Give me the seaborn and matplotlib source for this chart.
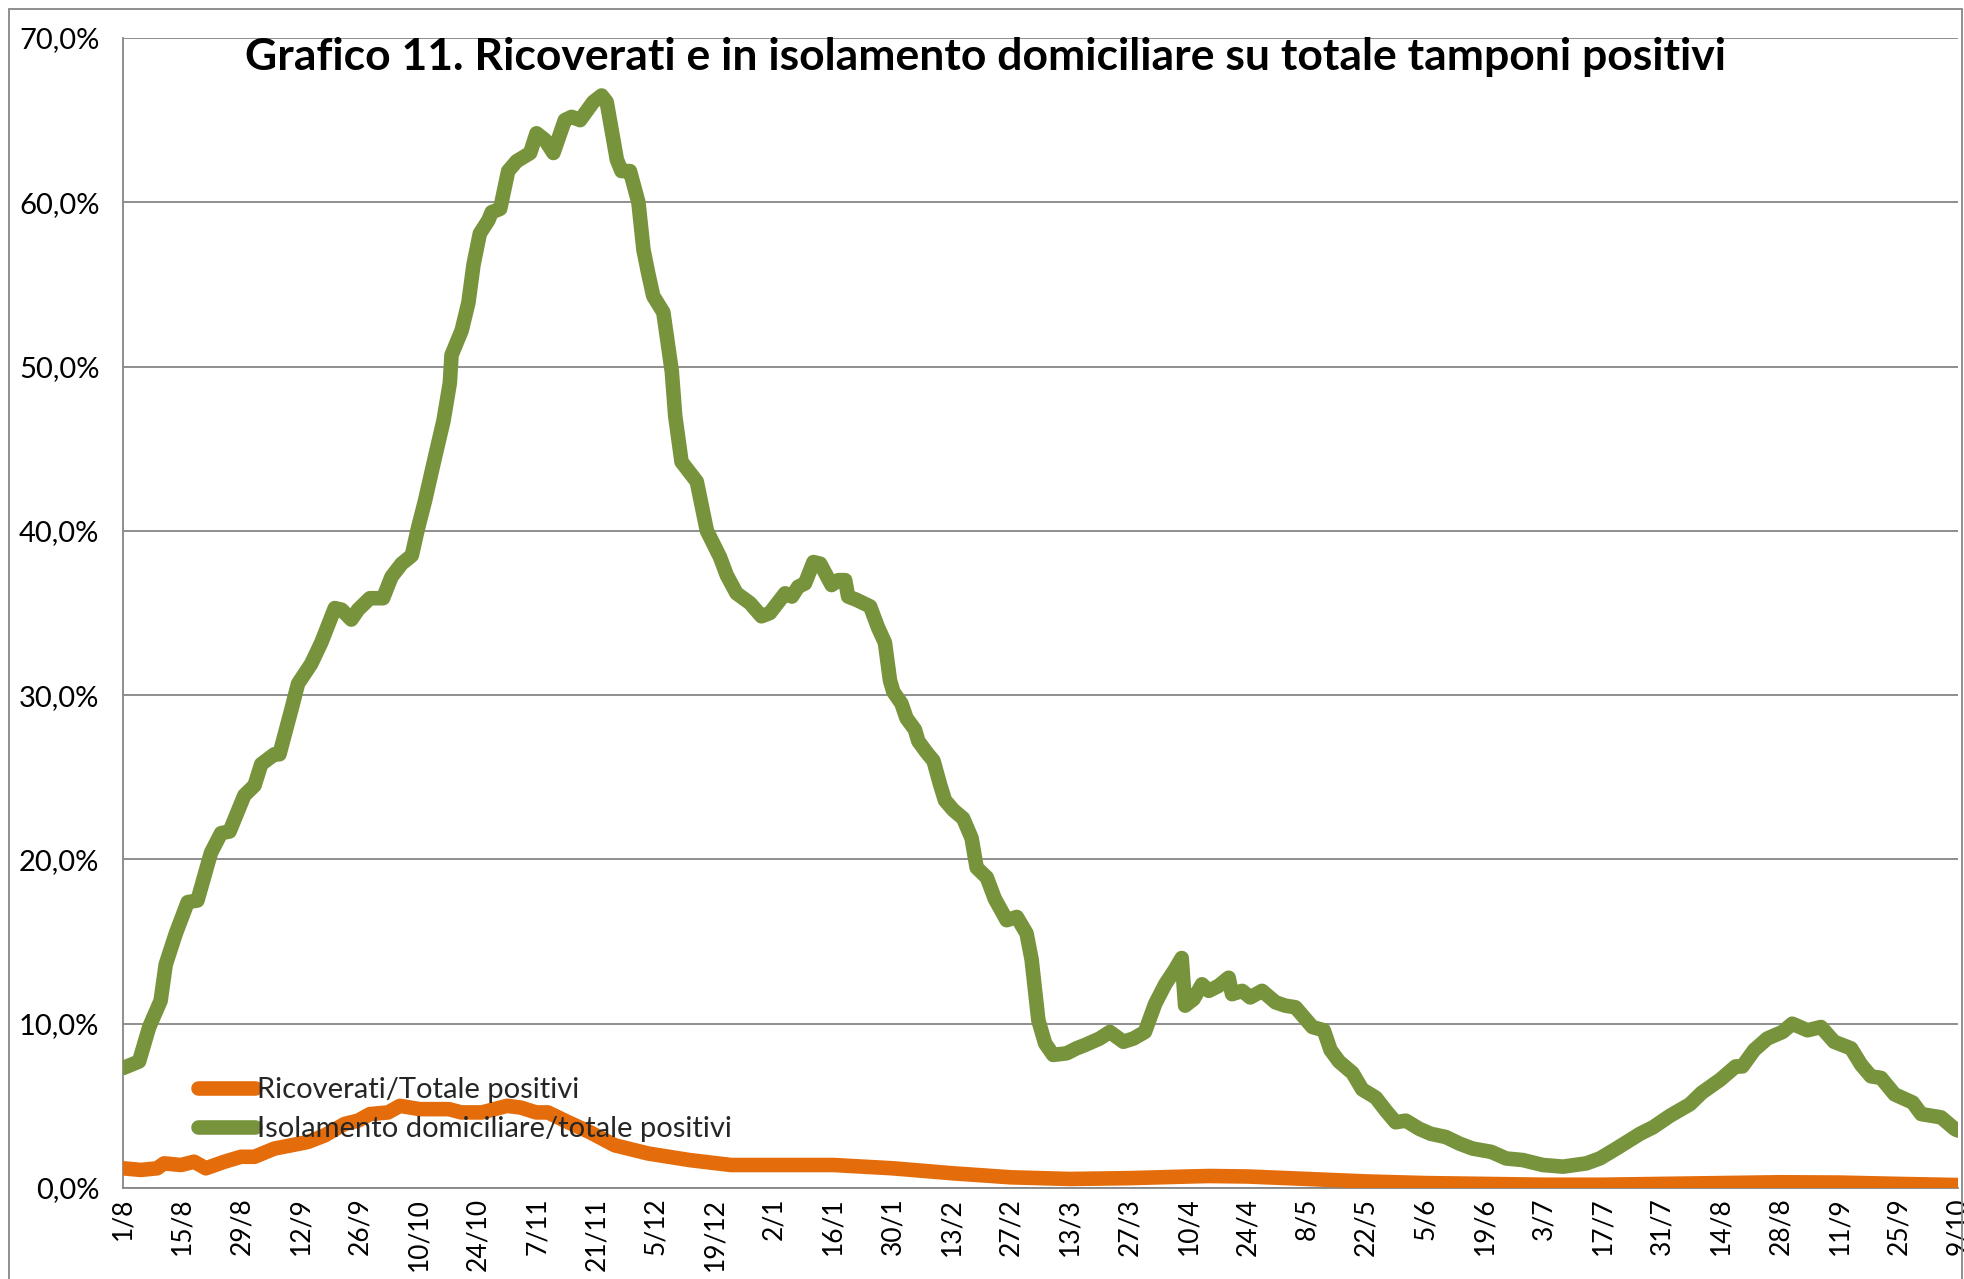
import numpy as np
import pandas as pd
import matplotlib
matplotlib.use("Agg")
import matplotlib.pyplot as plt
import seaborn as sns
from matplotlib.patches import Rectangle

# ---------------- data (day offset from 1 Aug 2020, value in %) ----------------
green_days = [0, 3.8, 6.2, 8.9, 10.1, 12.5, 15.3, 17.6, 20.8, 23.2, 25.2, 28.7, 31.1, 32.7, 35.8, 37,
              39.8, 41.4, 44.5, 46.9, 50.1, 51.7, 54, 55.6, 58.4, 61.5, 63.5, 65.9, 68.3, 69.8, 71.4,
              73.8, 75.8, 77.3, 77.7, 80.1, 81.7, 82.9, 84.4, 86.4, 87.2, 89.2, 91.1, 93.1, 96.3, 97.8,
              99.8, 101.8, 104.5, 106.1, 108.1, 111.2, 113.2, 114.4, 116.8, 117.9, 119.9, 121.9, 123.1,
              124.2, 125.4, 127.8, 129.8, 130.6, 132.1, 135.7, 138.1, 141.2, 142.8, 145.1,
              148.3, 151, 153, 155.4, 156.6, 158.2, 159.7, 161.3, 163.3, 164.9, 167.6, 169.2, 170.8,
              171.5, 173.5, 176.7, 178.6, 180.2, 181.4, 182.2, 184.1, 185.3, 187.3, 188.1, 190.1,
              191.7, 193.2, 194.4, 196.4, 198.7, 200.7, 201.9, 204.3, 206.2, 209, 211.4, 213.7, 214.9,
              216.5, 218.1, 220, 223.2,
              225.5, 227.5, 231, 233.4, 236.6, 239, 241.7, 244.1, 246.5, 248.8, 250.4, 251.2, 253.2,
              255.2, 256.8, 259.1, 261.5, 262.3, 264.7, 266.6, 269.4, 272.6, 274.9, 277.3, 281.3, 284,
              285.6, 287.6, 290.8, 293.1, 296.3, 298.7, 301,
              303.4, 306.6, 309.3, 312.9, 316.1, 319.2, 323.6, 327.1, 331.1, 335.8, 340.6, 346.1,
              349.3, 353.2, 358.8, 361.9, 365.9, 370.6, 373.4,
              377.8, 381.4, 383, 385.8, 388.9, 392.5, 394.8, 398.4, 401.6, 404.7, 408.7, 411.1, 413.4,
              415.8, 419, 423.3, 425.3, 430, 433.2, 434]
green_vals = [7.3, 7.7, 9.8, 11.4, 13.6, 15.5, 17.4, 17.5, 20.4, 21.6, 21.7, 23.9, 24.5, 25.8, 26.4, 26.4,
              29.1, 30.7, 31.9, 33.2, 35.3, 35.2, 34.6, 35.2, 35.9, 35.9, 37.2, 38.0, 38.5, 40.2, 41.8,
              44.5, 46.7, 49.0, 50.7, 52.2, 53.9, 56.2, 58.1, 58.9, 59.4, 59.6, 61.9, 62.5, 63.0, 64.2,
              63.8, 63.0, 65.0, 65.2, 65.0, 66.1, 66.5, 66.1, 62.6, 61.9, 61.9, 60.0, 57.1,
              55.7, 54.3, 53.3, 49.7, 47.0, 44.2, 43.0, 40.0, 38.4, 37.3, 36.2,
              35.6, 34.8, 35.0, 35.8, 36.2, 36.0, 36.6, 36.8, 38.1, 38.0, 36.7, 37.0, 37.0,
              36.0, 35.8, 35.4, 34.1, 33.2, 30.9, 30.2, 29.5, 28.6, 27.9, 27.2, 26.5,
              26.0, 24.6, 23.6, 23.0, 22.5, 21.3, 19.5, 18.9, 17.6, 16.3, 16.5, 15.5, 13.9,
              10.2, 8.8, 8.1, 8.2,
              8.5, 8.7, 9.1, 9.5, 8.9, 9.1, 9.5, 11.2, 12.4, 13.3, 14.0, 11.1, 11.5,
              12.4, 12.0, 12.3, 12.8, 11.8, 12.0, 11.6, 12.0, 11.3, 11.1, 11.0, 9.8, 9.6,
              8.4, 7.7, 7.0, 6.0, 5.5, 4.7, 4.0,
              4.1, 3.6, 3.3, 3.1, 2.7, 2.4, 2.2, 1.8, 1.7, 1.4, 1.3, 1.5,
              1.8, 2.4, 3.3, 3.7, 4.4, 5.1, 5.8,
              6.6, 7.4, 7.4, 8.4, 9.1, 9.5, 10.0, 9.6, 9.8, 8.9, 8.5, 7.5, 6.8,
              6.7, 5.7, 5.2, 4.5, 4.3, 3.6, 3.5]

orange_days = [0, 4.2, 8.1, 9.7, 13.7, 16.8, 19.6, 24, 27.9, 31.1, 35.8, 39.8, 43.7, 47.7, 52.4, 55.6,
               58.4, 62.7, 65.5, 70.2, 75.4, 77.1, 80, 84.9, 90.8, 94, 97.7, 100.5, 104.5, 110.4, 116.3,
               124.2, 134, 143.8, 153.6, 160, 168, 182, 196, 210, 224, 238, 252, 257, 266, 280, 294,
               308, 322, 336, 350, 364, 378, 392, 406, 420, 434]
orange_vals = [1.2, 1.1, 1.2, 1.5, 1.4, 1.6, 1.2, 1.6, 1.9, 1.9, 2.4, 2.6, 2.8, 3.2, 3.9, 4.1,
               4.5, 4.6, 5.0, 4.8, 4.8, 4.8, 4.6, 4.6, 5.0, 4.9, 4.6, 4.6, 4.1, 3.4, 2.6,
               2.1, 1.7, 1.4, 1.4, 1.4, 1.4, 1.2, 0.9, 0.65, 0.55, 0.6, 0.7, 0.73, 0.7, 0.55, 0.4,
               0.3, 0.25, 0.2, 0.2, 0.25, 0.3, 0.35, 0.33, 0.25, 0.18]

tick_labels = ["1/8", "15/8", "29/8", "12/9", "26/9", "10/10", "24/10", "7/11", "21/11", "5/12",
               "19/12", "2/1", "16/1", "30/1", "13/2", "27/2", "13/3", "27/3", "10/4", "24/4",
               "8/5", "22/5", "5/6", "19/6", "3/7", "17/7", "31/7", "14/8", "28/8", "11/9",
               "25/9", "9/10"]
y_ticks = [0, 10, 20, 30, 40, 50, 60, 70]

series_names = ["Ricoverati/Totale positivi", "Isolamento domiciliare/totale positivi"]
title = "Grafico 11. Ricoverati e in isolamento domiciliare su totale tamponi positivi"

# ---------------- style ----------------
sns.set_style("white")
plt.rcParams['font.family'] = ['Lato', 'DejaVu Sans']

ORANGE = "#E46C0A"
GREEN = "#77933C"
GRID = "#868686"

fig = plt.figure(figsize=(19.64, 12.79), dpi=100)
ax = fig.add_axes([123 / 1964, 1 - 1188 / 1279, (1958 - 123) / 1964, (1188 - 38) / 1279])

df_o = pd.DataFrame({"day": orange_days, "val": orange_vals})
df_g = pd.DataFrame({"day": green_days, "val": green_vals})

LW = 10.5
sns.lineplot(data=df_g, x="day", y="val", ax=ax, color=GREEN, linewidth=LW, label=series_names[1],
             solid_capstyle="round", solid_joinstyle="round", zorder=3)
sns.lineplot(data=df_o, x="day", y="val", ax=ax, color=ORANGE, linewidth=LW, label=series_names[0],
             solid_capstyle="round", solid_joinstyle="round", zorder=4)

ax.set_xlim(0, 434)
ax.set_ylim(0, 70)
ax.set_xticks(np.arange(len(tick_labels)) * 14)
ax.set_xticklabels(tick_labels, rotation=90, fontsize=19)
ax.set_yticks(y_ticks)
ax.set_yticklabels([f"{v},0%" for v in y_ticks], fontsize=21)
ax.set_xlabel("")
ax.set_ylabel("")

for s in ["top", "right"]:
    ax.spines[s].set_visible(False)
for s in ["left", "bottom"]:
    ax.spines[s].set_color(GRID)
    ax.spines[s].set_linewidth(1.3)
ax.tick_params(axis="both", color=GRID, width=1.3, direction="out", labelcolor="black")
ax.tick_params(axis="y", length=8, pad=9)
ax.tick_params(axis="x", length=5, pad=2)
ax.yaxis.grid(True, color=GRID, linewidth=1.3)
ax.xaxis.grid(False)
ax.set_axisbelow(True)

handles, labels = ax.get_legend_handles_labels()
order = [labels.index(series_names[0]), labels.index(series_names[1])]
leg = ax.legend([handles[i] for i in order], [labels[i] for i in order],
                loc="center left", bbox_to_anchor=(0.041, 0.068), frameon=False,
                fontsize=21, handlelength=1.95, handletextpad=0.05, labelspacing=0.45,
                borderpad=0, borderaxespad=0)
for line in leg.get_lines():
    line.set_solid_capstyle("round")
    line.set_linewidth(LW)

fig.text(985 / 1964, 1 - 57 / 1279, title, ha="center", va="center", fontsize=32,
         fontweight="bold", color="black")

# outer chart border
fig.patches.append(Rectangle((9 / 1964, -0.05), (1962 - 9) / 1964, 1.05 - 9 / 1279,
                             transform=fig.transFigure, fill=False, edgecolor=GRID,
                             linewidth=1.3, zorder=0))

fig.savefig("out.png", dpi=100)
